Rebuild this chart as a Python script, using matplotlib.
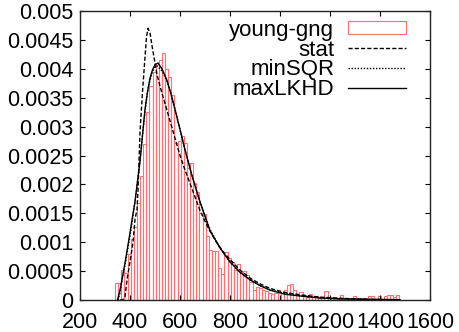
import numpy as np
import matplotlib
matplotlib.use("Agg")
import matplotlib.pyplot as plt
from matplotlib.ticker import FuncFormatter

plt.rcParams['font.family'] = ['Liberation Sans', 'DejaVu Sans']

# histogram (young-gng), bin width 12.5 starting at 340
bin_start = 340.0
bin_width = 12.5
hist_vals = [0.30, 0.30, 0.52, 0.47, 0.80, 1.05, 1.26, 1.68, 2.15, 2.70,
             3.25, 3.70, 3.95, 4.10, 4.15, 4.27, 4.00, 3.86, 3.55, 2.72,
             2.75, 2.84, 2.72, 2.28, 2.37, 2.02, 1.87, 1.50, 1.48, 1.10,
             0.87, 0.85, 0.84, 0.55, 0.45, 0.83, 0.72, 0.66, 0.52, 0.62,
             0.49, 0.50, 0.44, 0.31, 0.17, 0.22, 0.20, 0.17, 0.15, 0.12,
             0.11, 0.12, 0.14, 0.12, 0.17, 0.26, 0.28, 0.17, 0.10, 0.13,
             0.08, 0.06, 0.10, 0.05, 0.07, 0.04, 0.05, 0.15, 0.06, 0.03,
             0.06, 0.02, 0.08, 0.03, 0.02, 0.03, 0.07, 0.02, 0.00, 0.03,
             0.02, 0.07, 0.07, 0.02, 0.07, 0.00, 0.07, 0.09, 0.09, 0.05,
             0.08]
hist_vals = [v * 1e-3 for v in hist_vals]
edges = [bin_start + i * bin_width for i in range(len(hist_vals))]

# fitted curves
stat_x = [360, 370, 380, 388, 400, 412, 420, 428, 432, 440, 450, 460, 466, 472,
          480, 488, 498, 508, 520, 540, 560, 580, 600, 620, 650, 680, 710, 740,
          770, 800, 840, 880, 920, 960, 1020, 1080, 1160, 1240, 1360, 1480]
stat_y = [0.0, 0.0, 0.05, 0.35, 0.66, 1.0, 1.4, 1.56, 1.9, 2.9, 3.6, 4.2, 4.55, 4.7,
          4.62, 4.4, 4.15, 3.9, 3.7, 3.4, 3.1, 2.8, 2.5, 2.25, 1.9, 1.55, 1.27, 1.04,
          0.85, 0.70, 0.52, 0.38, 0.28, 0.20, 0.13, 0.09, 0.05, 0.03, 0.01, 0.005]
stat_y = [v * 1e-3 for v in stat_y]

sqr_x = [352, 360, 370, 380, 390, 400, 410, 420, 430, 440, 450, 460, 470, 480,
         490, 500, 510, 520, 530, 548, 565, 580, 600, 620, 650, 680, 720, 760,
         800, 840, 880, 920, 960, 1020, 1080, 1160, 1240, 1360, 1480]
sqr_y = [0.0, 0.12, 0.4, 0.6, 0.85, 1.1, 1.4, 1.7, 2.05, 2.4, 2.85, 3.25, 3.6, 3.8,
         3.95, 4.03, 4.05, 4.0, 3.95, 3.78, 3.55, 3.3, 2.95, 2.6, 2.12, 1.7, 1.22, 0.9,
         0.66, 0.48, 0.35, 0.25, 0.18, 0.11, 0.07, 0.04, 0.02, 0.01, 0.005]
sqr_y = [v * 1e-3 for v in sqr_y]

lkhd_x = [350, 360, 370, 380, 390, 400, 410, 420, 430, 440, 450, 460, 470, 480,
          490, 500, 512, 528, 548, 565, 580, 600, 620, 650, 680, 720, 760, 800,
          840, 880, 920, 960, 1020, 1080, 1160, 1240, 1360, 1480]
lkhd_y = [0.0, 0.17, 0.4, 0.64, 0.9, 1.16, 1.44, 1.7, 2.05, 2.4, 2.85, 3.3, 3.6, 3.84,
          3.98, 4.07, 4.1, 4.0, 3.8, 3.55, 3.3, 2.95, 2.6, 2.12, 1.7, 1.2, 0.9, 0.66,
          0.48, 0.35, 0.25, 0.17, 0.1, 0.07, 0.035, 0.02, 0.01, 0.005]
lkhd_y = [v * 1e-3 for v in lkhd_y]

fig = plt.figure(figsize=(4.59, 3.32), dpi=100)
ax = fig.add_axes([80 / 459, 1 - 300 / 332, 350 / 459, 289 / 332])

h_bar = ax.bar(edges, hist_vals, width=bin_width, align='edge', fill=False,
               edgecolor='#ff7070', linewidth=0.8, label='young-gng')
h_stat, = ax.plot(stat_x, stat_y, color='black', lw=1.0, dashes=(3, 1.5), label='stat')
h_sqr, = ax.plot(sqr_x, sqr_y, color='black', lw=1.0, dashes=(1, 1.2), label='minSQR')
h_lkhd, = ax.plot(lkhd_x, lkhd_y, color='black', lw=1.0, label='maxLKHD')

ax.set_xlim(200, 1600)
ax.set_ylim(0, 0.005)
ax.set_xticks(np.arange(200, 1601, 200))
ax.set_yticks(np.arange(0, 0.00501, 0.0005))
ax.yaxis.set_major_formatter(FuncFormatter(lambda v, p: '%g' % round(v, 6)))
ax.tick_params(direction='in', length=3.5, width=0.8, top=True, right=True,
               labelsize=15.5, colors='black')
ax.tick_params(axis='x', pad=9)
ax.tick_params(axis='y', pad=5)
for s in ax.spines.values():
    s.set_linewidth(1.0)
    s.set_color('#222222')

ax.legend([h_bar, h_stat, h_sqr, h_lkhd], ['young-gng', 'stat', 'minSQR', 'maxLKHD'],
          loc='upper right', bbox_to_anchor=(0.93, 0.97), frameon=False,
          markerfirst=False, fontsize=16, handlelength=2.6, handletextpad=0.6,
          labelspacing=-0.05, handleheight=0.5, borderpad=0, borderaxespad=0)

fig.savefig('out.png', dpi=100)
